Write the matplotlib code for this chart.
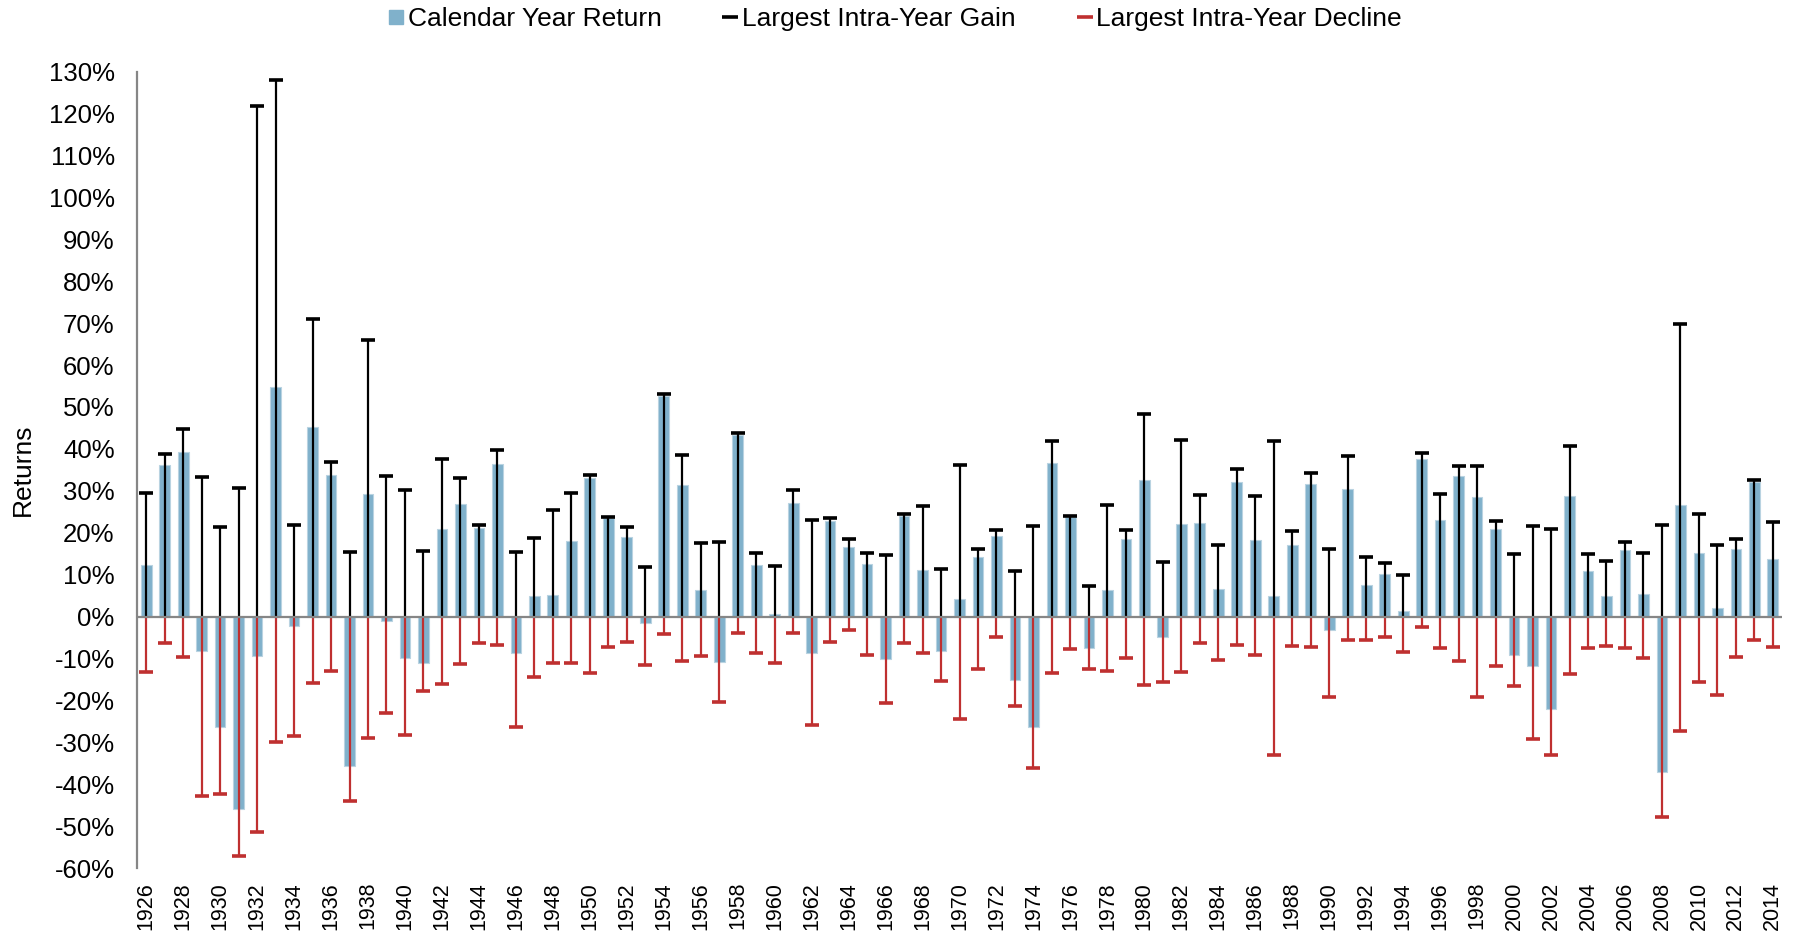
import numpy as np
import matplotlib
matplotlib.use("Agg")
import matplotlib.pyplot as plt
from matplotlib.lines import Line2D
from matplotlib.ticker import FuncFormatter

plt.rcParams['font.family'] = ['Liberation Sans', 'DejaVu Sans']

years = list(range(1926, 2015))

# calendar year return, %
returns = [12.3, 36.2, 39.3, -8.3, -26.4, -45.8, -9.4, 54.7, -2.2, 45.3,
           33.7, -35.7, 29.2, -1.0, -9.8, -11.1, 20.8, 26.8, 21.2, 36.4,
           -8.7, 4.9, 5.2, 18.0, 33.0, 23.4, 19.0, -1.6, 52.6, 31.3,
           6.4, -10.9, 43.4, 12.4, 0.5, 27.2, -8.7, 22.8, 16.7, 12.5,
           -10.2, 24.1, 11.0, -8.2, 4.3, 14.1, 19.2, -15.1, -26.4, 36.6,
           23.7, -7.4, 6.3, 18.6, 32.6, -5.0, 22.0, 22.3, 6.6, 32.0,
           18.3, 5.0, 17.1, 31.7, -3.1, 30.5, 7.6, 10.2, 1.4, 37.6,
           23.1, 33.5, 28.6, 21.0, -9.1, -11.8, -22.1, 28.7, 10.8, 4.9,
           15.8, 5.4, -37.0, 26.5, 15.1, 2.1, 16.0, 32.2, 13.7]

# largest intra-year gain, %
gains = [29.4, 38.7, 44.7, 33.3, 21.3, 30.6, 121.7, 127.9, 21.8, 70.9,
         36.8, 15.4, 65.9, 33.6, 30.2, 15.6, 37.5, 33.0, 21.8, 39.7,
         15.4, 18.7, 25.5, 29.4, 33.7, 23.8, 21.3, 11.8, 53.0, 38.5,
         17.5, 17.9, 43.7, 15.1, 12.1, 30.2, 23.0, 23.5, 18.5, 15.2,
         14.7, 24.4, 26.4, 11.3, 36.2, 16.1, 20.6, 10.8, 21.6, 42.0,
         23.9, 7.4, 26.6, 20.6, 48.3, 12.9, 42.2, 28.9, 17.1, 35.2,
         28.7, 42.0, 20.4, 34.2, 16.0, 38.3, 14.2, 12.7, 9.9, 39.0,
         29.2, 35.9, 35.9, 22.8, 14.9, 21.5, 21.0, 40.8, 14.9, 13.2,
         17.7, 15.1, 21.8, 69.7, 24.4, 17.0, 18.5, 32.5, 22.5]

# largest intra-year decline, %
declines = [-13.3, -6.4, -9.7, -42.8, -42.3, -57.1, -51.4, -29.9, -28.5, -15.9,
            -13.0, -44.0, -29.0, -23.0, -28.3, -17.8, -16.1, -11.4, -6.4, -6.8,
            -26.4, -14.5, -11.1, -11.1, -13.5, -7.3, -6.1, -11.6, -4.2, -10.6,
            -9.5, -20.4, -4.0, -8.7, -11.1, -4.0, -25.9, -6.1, -3.3, -9.2,
            -20.7, -6.4, -8.7, -15.4, -24.5, -12.5, -4.9, -21.4, -36.1, -13.5,
            -7.8, -12.5, -13.0, -9.9, -16.4, -15.6, -13.3, -6.4, -10.4, -6.8,
            -9.2, -33.0, -7.1, -7.3, -19.2, -5.6, -5.6, -4.9, -8.5, -2.5,
            -7.5, -10.6, -19.2, -11.8, -16.6, -29.2, -33.0, -13.7, -7.5, -7.1,
            -7.5, -9.9, -47.8, -27.3, -15.6, -18.7, -9.7, -5.6, -7.3]

bar_col = '#80B1CB'
red = '#BF3030'
grey = '#868686'

x = np.arange(len(years))
ret = np.array(returns) / 100
up = np.array(gains) / 100
dn = np.array(declines) / 100

fig = plt.figure(figsize=(17.97, 9.38), dpi=100)
ax = fig.add_axes([0.0762, 0.0746, 0.9155, 0.849])

ax.bar(x, ret, width=0.58, color=bar_col, edgecolor='#B9D3E1', linewidth=0.8, zorder=2)

# gain whiskers (black) and decline whiskers (red), both from zero
ax.vlines(x, 0, up, color='black', lw=1.6, zorder=3)
ax.plot(x, up, ls='none', marker='_', ms=10.5, mew=2.6, color='black', zorder=4)
ax.vlines(x, 0, dn, color=red, lw=1.6, zorder=3)
ax.plot(x, dn, ls='none', marker='_', ms=10.5, mew=2.6, color=red, zorder=4)

ax.axhline(0, color=grey, lw=1.6, zorder=5)

ax.set_xlim(-0.5, len(years) - 0.5)
ax.set_ylim(-0.6, 1.3)
ax.set_yticks(np.arange(-0.6, 1.31, 0.1))
ax.yaxis.set_major_formatter(FuncFormatter(lambda v, p: '{:d}%'.format(int(round(v * 100)))))
ax.set_xticks(x[::2])
ax.set_xticklabels([str(y) for y in years[::2]], rotation=90)
ax.tick_params(axis='y', length=0, pad=16, labelsize=18.5)
ax.tick_params(axis='x', length=0, pad=10, labelsize=15.5)

for s in ['top', 'right', 'bottom']:
    ax.spines[s].set_visible(False)
ax.spines['left'].set_color(grey)
ax.spines['left'].set_linewidth(1.6)

ax.set_ylabel('Returns', fontsize=19, va='center')
ax.yaxis.set_label_coords(-0.0693, 0.5)

handles = [
    Line2D([], [], ls='none', marker='s', ms=10, color=bar_col),
    Line2D([], [], ls='none', marker='_', ms=11, mew=2.6, color='black'),
    Line2D([], [], ls='none', marker='_', ms=11, mew=2.6, color=red),
]
labels = ['Calendar Year Return', 'Largest Intra-Year Gain', 'Largest Intra-Year Decline']
fig.legend(handles, labels, loc='center', bbox_to_anchor=(0.4985, 0.980), ncol=3,
           frameon=False, fontsize=19, handlelength=0.5, handletextpad=0.2,
           columnspacing=2.35)

fig.savefig('out.png', dpi=100)
